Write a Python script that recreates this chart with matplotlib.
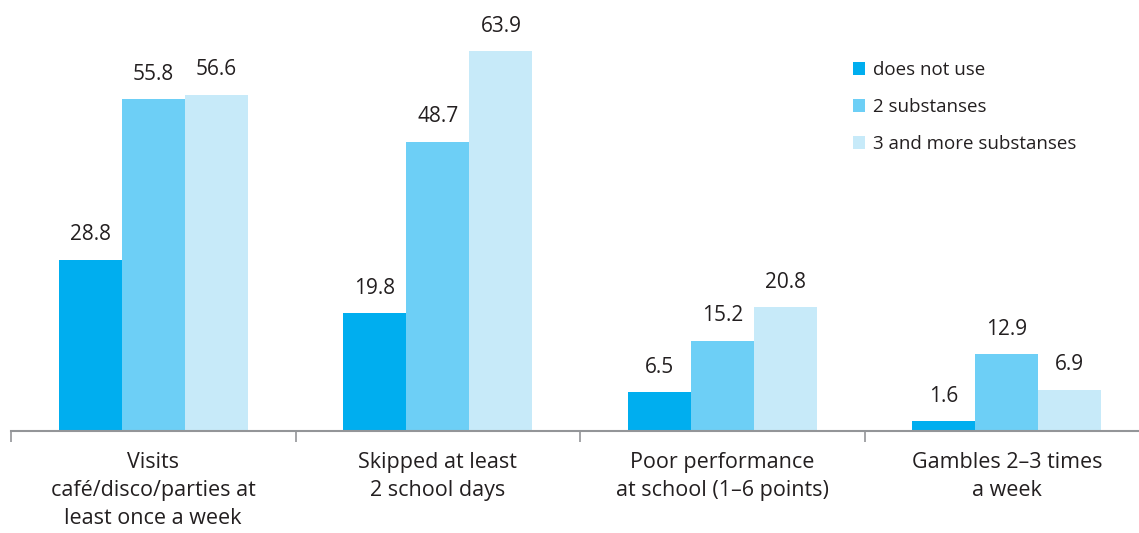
import matplotlib
matplotlib.use("Agg")
import matplotlib.pyplot as plt
import numpy as np
from matplotlib.patches import Patch

plt.rcParams['font.family'] = ['Open Sans', 'DejaVu Sans']

categories = ["Visits\ncafé/disco/parties at\nleast once a week",
              "Skipped at least\n2 school days",
              "Poor performance\nat school (1–6 points)",
              "Gambles 2–3 times\na week"]
series_names = ["does not use", "2 substanses", "3 and more substanses"]
does_not_use = [28.8, 19.8, 6.5, 1.6]
two_subst = [55.8, 48.7, 15.2, 12.9]
three_more = [56.6, 63.9, 20.8, 6.9]
colors = ["#00AEEF", "#6DCFF6", "#C7EAF9"]

fig = plt.figure(figsize=(11.39, 5.33), dpi=100)
W, H = 1139, 533
ax = fig.add_axes([11 / W, (H - 431) / H, 1138 / W, (431 - 15) / H])

x = np.arange(len(categories))
bw = 0.222
series = [does_not_use, two_subst, three_more]
for i, (vals, c, name) in enumerate(zip(series, colors, series_names)):
    pos = x + (i - 1) * bw
    ax.bar(pos, vals, width=bw, color=c, label=name, linewidth=0)
    for p, v in zip(pos, vals):
        ax.annotate(f"{v:.1f}", (p, v), xytext=(0, 18), textcoords="offset points",
                    ha="center", va="center", fontsize=15, color="#231f20")

ax.set_xlim(-0.5, 3.5)
ax.set_ylim(0, 70)
for s in ["top", "left", "right"]:
    ax.spines[s].set_visible(False)
ax.spines["bottom"].set_color("#939598")
ax.spines["bottom"].set_linewidth(1.5)
ax.set_yticks([])
ax.set_xticks(x)
ax.set_xticklabels(categories, fontsize=15.5, color="#231f20", linespacing=1.45)
ax.tick_params(axis="x", which="major", length=0, pad=15)
ax.set_xticks(np.arange(-0.5, 4.0, 1.0), minor=True)
ax.tick_params(axis="x", which="minor", length=8, width=1.2, color="#939598")

handles = [Patch(facecolor=c, edgecolor="none", label=n) for c, n in zip(colors, series_names)]
leg = ax.legend(handles=handles, loc="upper left",
                bbox_to_anchor=(836 / W, (H - 44) / H),
                bbox_transform=fig.transFigure, frameon=False, fontsize=13.5,
                handlelength=0.65, handleheight=0.65, handletextpad=0.4, labelspacing=1.02)
for t in leg.get_texts():
    t.set_color("#231f20")

fig.savefig("out.png", dpi=100)
